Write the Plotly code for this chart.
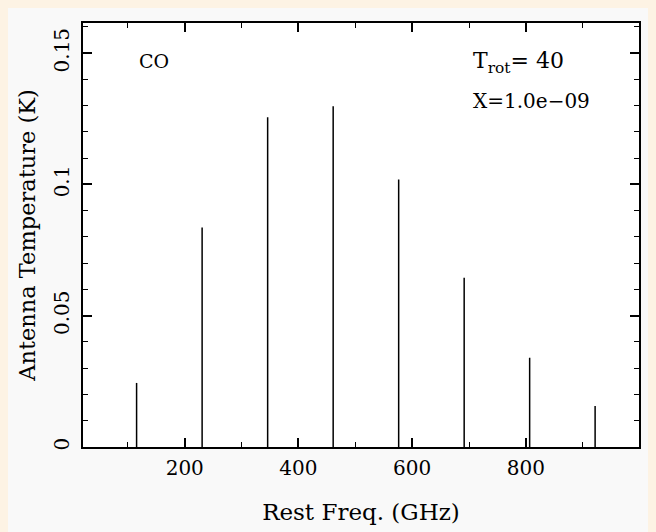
import plotly.graph_objects as go

# CO rotational transitions (GHz) and peak antenna temperature (K)
freq_ghz = [115.27, 230.54, 345.80, 461.04, 576.27, 691.47, 806.65, 921.80]
t_ant = [0.0244, 0.0836, 0.1256, 0.1298, 0.1019, 0.0645, 0.0340, 0.0156]

x_ticks = [200, 400, 600, 800]
y_ticks = [0, 0.05, 0.1, 0.15]
y_tick_labels = ["0", "0.05", "0.1", "0.15"]

# build stick spectrum from the data
xs, ys = [], []
for f, t in zip(freq_ghz, t_ant):
    xs += [f, f, None]
    ys += [0, t, None]

OFF = 8  # default page body margin
W, H = 656 - OFF, 532 - OFF
L, R, T, B = 83 - OFF, 17, 23 - OFF, 85
pw, ph = W - L - R, H - T - B

# convert reference-window pixel positions to paper coords
def px(x):
    return (x - OFF - L) / pw

def py(y):
    return (H - B - (y - OFF)) / ph

FONT = "DejaVu Serif"

fig = go.Figure()
fig.add_trace(go.Scatter(x=xs, y=ys, mode="lines",
                         line=dict(color="black", width=1.5),
                         hoverinfo="skip", showlegend=False))

fig.update_layout(
    width=W, height=H,
    margin=dict(l=L, r=R, t=T, b=B, autoexpand=False),
    paper_bgcolor="#f9f9f9",
    plot_bgcolor="white",
    font=dict(family=FONT, size=18, color="black"),
    showlegend=False,
    annotations=[
        dict(text="CO", x=px(137), y=py(61), xref="paper", yref="paper",
             xanchor="left", yanchor="middle", showarrow=False,
             font=dict(size=19)),
        dict(text="T<sub>rot</sub>= 40", x=px(471), y=py(63), xref="paper", yref="paper",
             xanchor="left", yanchor="middle", showarrow=False,
             font=dict(size=22)),
        dict(text="X=1.0e\u221209", x=px(471), y=py(101), xref="paper", yref="paper",
             xanchor="left", yanchor="middle", showarrow=False,
             font=dict(size=20)),
    ],
)

fig.update_xaxes(
    range=[21, 999], tickvals=x_ticks, ticktext=[str(v) for v in x_ticks],
    automargin=False,
    ticks="inside", ticklen=9, tickwidth=1.5, tickcolor="black",
    minor=dict(tickvals=[100, 300, 500, 700, 900], ticks="inside", ticklen=5,
               tickwidth=1, tickcolor="black"),
    showline=True, linecolor="black", linewidth=2, mirror="ticks",
    showgrid=False, zeroline=False,
    tickfont=dict(size=20), ticklabelstandoff=2,
    title=dict(text="Rest Freq. (GHz)", font=dict(size=23), standoff=25),
)
fig.update_yaxes(
    range=[0, 0.1615], tickvals=y_ticks, ticktext=y_tick_labels,
    automargin=False,
    tickangle=-90,
    ticks="inside", ticklen=9, tickwidth=1.5, tickcolor="black",
    minor=dict(dtick=0.01, ticks="inside", ticklen=5, tickwidth=1, tickcolor="black"),
    showline=True, linecolor="black", linewidth=2, mirror="ticks",
    showgrid=False, zeroline=False,
    tickfont=dict(size=20), ticklabelstandoff=4,
    title=dict(text="Antenna Temperature (K)", font=dict(size=22.5), standoff=8),
)

fig.write_html("out.html",
               post_script="document.body.style.background='#fdf3e4';")
